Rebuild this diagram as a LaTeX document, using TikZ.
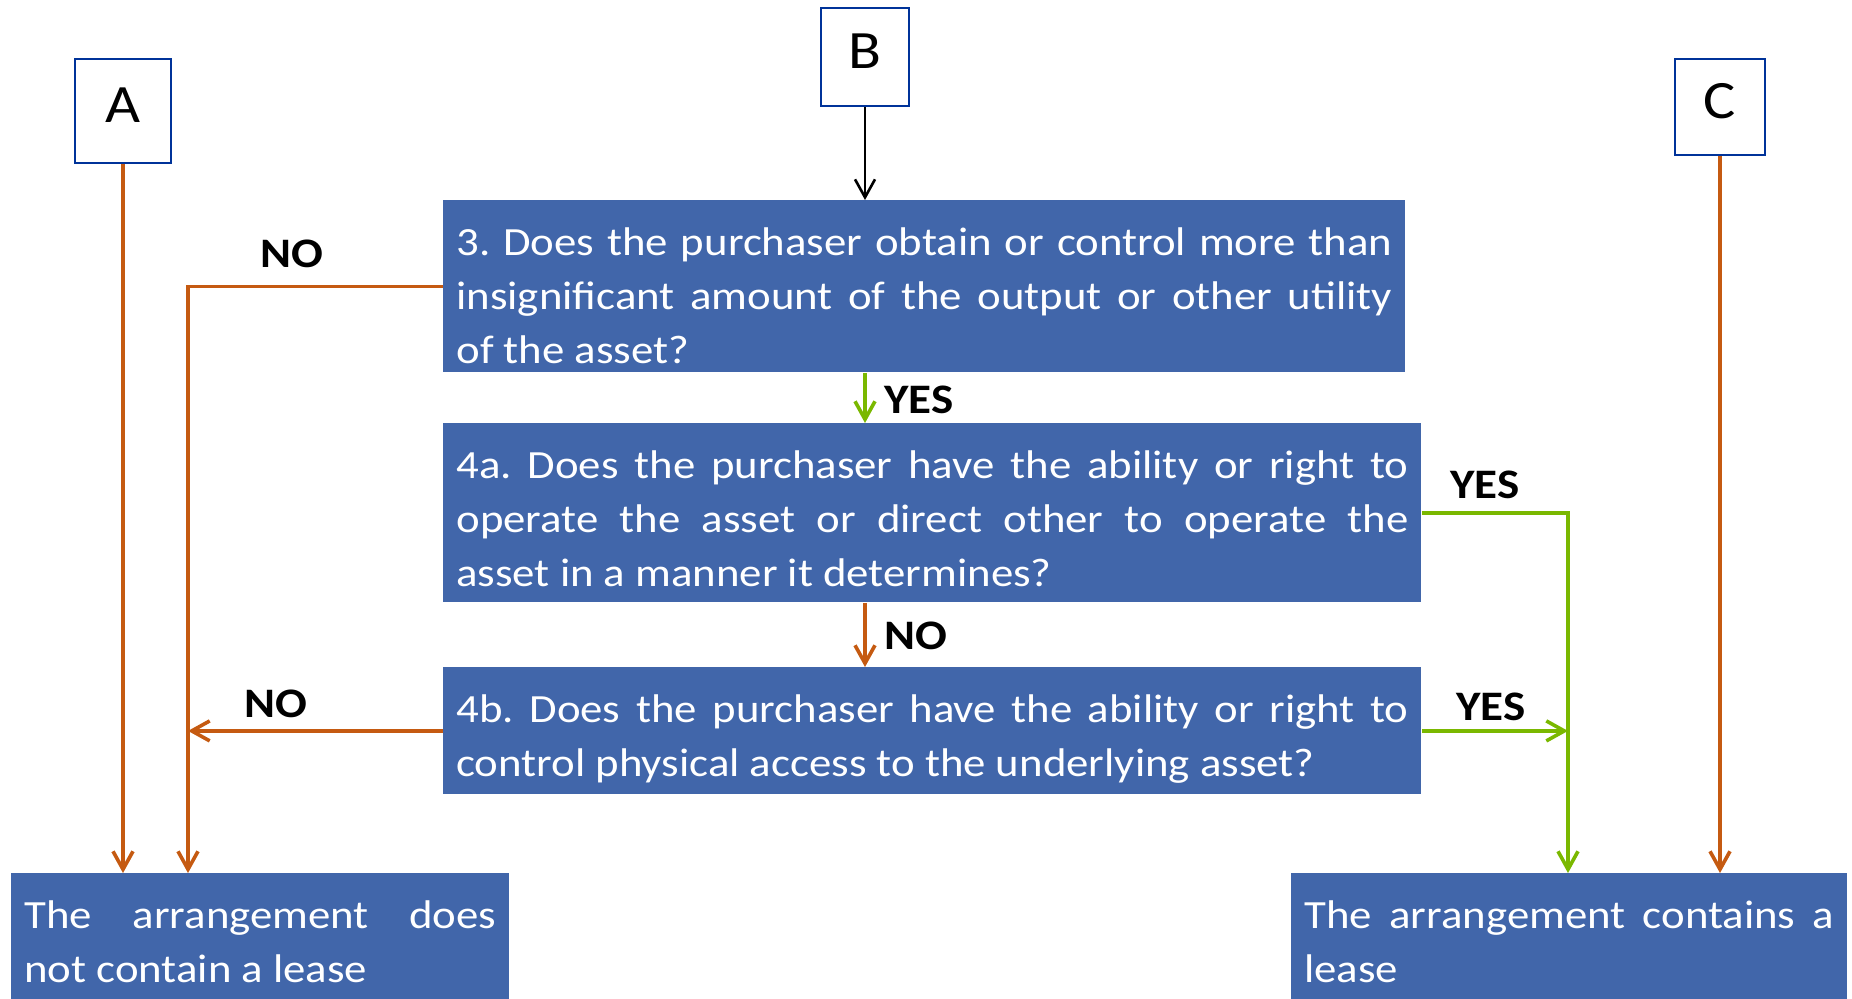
\documentclass[tikz,border=0pt]{standalone}
\usepackage{fontspec}
\setmainfont{Carlito}[FakeStretch=1.12]
\usepackage{tikz}
\usetikzlibrary{arrows.meta}
\frenchspacing
\hyphenpenalty=10000
\exhyphenpenalty=10000
\tikzstyle{chart} = [x = .5pt, y = -.5pt]
\definecolor{boxBlue}{RGB}{65,102,170}
\definecolor{frameBlue}{RGB}{0,51,153}
\definecolor{noColor}{RGB}{197,90,17}
\definecolor{yesColor}{RGB}{122,184,0}
\newcommand{\boxFont}{\fontsize{20pt}{27pt}\selectfont}
\newcommand{\topStrut}{\rule{0pt}{27.5pt}}
\newcommand{\bottomStrut}[1]{\rule[-#1]{0pt}{0pt}}
\tikzstyle{questionStyle} = [fill=boxBlue, text=white, anchor=north west, inner xsep=6.5pt, inner ysep=0pt, align=justify, font=\boxFont]
\tikzstyle{letterStyle} = [draw=frameBlue, line width=1pt, fill=white, font=\fontsize{27pt}{32pt}\selectfont, text height=17.5pt, text depth=6.5pt]
\tikzstyle{answerText} = [font=\fontsize{21pt}{25pt}\selectfont\bfseries]
\tikzstyle{noLine} = [color=noColor, line width=1.8pt, -{Straight Barb[length=9pt, width=10pt]}]
\tikzstyle{yesLine} = [color=yesColor, line width=1.8pt, -{Straight Barb[length=9pt, width=10pt]}]
\tikzstyle{startLine} = [color=black, line width=1.3pt, -{Straight Barb[length=9pt, width=10pt]}]
\newcommand{\questionBox}[5]{\node [questionStyle, text width = #3] (#1) at (#2) {\topStrut #5\bottomStrut{#4}};}
\newcommand{\letterBox}[5]{\node [letterStyle, minimum width = #3, minimum height = #4] (#1) at (#2) {#5};}

\begin{document}
\begin{tikzpicture}[chart]
  \useasboundingbox (0,0) rectangle (1852,998);
  \letterBox{letterA}{123,111}{48pt}{52pt}{A}
  \letterBox{letterB}{865,57}{44pt}{49pt}{B}
  \letterBox{letterC}{1720,107}{45pt}{48pt}{C}
  \questionBox{qThree}{443,200}{468pt}{4.5pt}{3. Does the purchaser obtain or control more than\linebreak insignificant amount of the output or other utility\linebreak of the asset?}
  \questionBox{qFourA}{443,423}{476pt}{8pt}{4a. Does the purchaser have the ability or right to\linebreak operate the asset or direct other to operate the\linebreak asset in a manner it determines?}
  \questionBox{qFourB}{443,667}{476pt}{9pt}{4b. Does the purchaser have the ability or right to\linebreak control physical access to the underlying asset?}
  \questionBox{leaseNo}{11,873}{236pt}{12pt}{The arrangement does\linebreak not contain a lease}
  \questionBox{leaseYes}{1291,873}{265pt}{12pt}{The arrangement contains a\linebreak lease}
  \coordinate (noLane) at (188,0);
  \coordinate (yesLane) at (1568,0);
  \draw [startLine] (letterB.south) -- (letterB.south |- qThree.north);
  \draw [yesLine] (letterB.south |- qThree.south) -- (letterB.south |- qFourA.north);
  \draw [noLine] (letterB.south |- qFourA.south) -- (letterB.south |- qFourB.north);
  \draw [noLine] (letterA.south) -- (letterA.south |- leaseNo.north);
  \draw [noLine] (letterC.south) -- (letterC.south |- leaseYes.north);
  \draw [noLine] (qThree.west) -| (noLane |- leaseNo.north);
  \draw [noLine] (qFourB.west) -- (noLane |- qFourB.west);
  \draw [yesLine] (qFourA.east) -| (yesLane |- leaseYes.north);
  \draw [yesLine] (qFourB.east) -- (yesLane |- qFourB.east);
  \node [answerText] (noThree) at (292,254) {NO};
  \node [answerText] (yesThree) at (919,400) {YES};
  \node [answerText] (noFourA) at (916,636) {NO};
  \node [answerText] (yesFourA) at (1485,485) {YES};
  \node [answerText] (noFourB) at (276,704) {NO};
  \node [answerText] (yesFourB) at (1491,707) {YES};
\end{tikzpicture}
\end{document}
